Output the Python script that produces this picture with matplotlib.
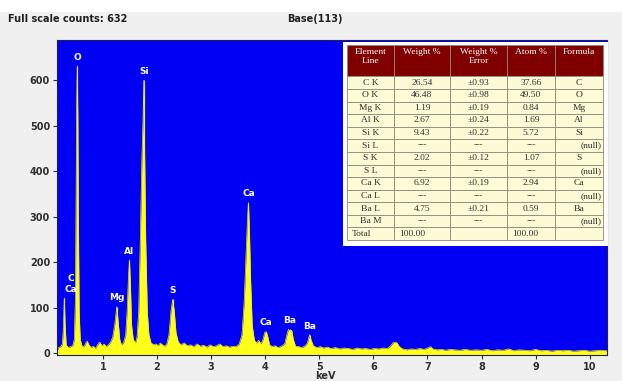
import matplotlib
matplotlib.use("Agg")
import matplotlib.pyplot as plt

# EDS spectrum, counts per energy (keV)
energy = [0.15, 0.18, 0.22, 0.25, 0.27, 0.285, 0.30, 0.32, 0.36, 0.40, 0.44, 0.47,
          0.49, 0.505, 0.515, 0.525, 0.535, 0.545, 0.56, 0.58, 0.61, 0.65, 0.68, 0.71,
          0.74, 0.78, 0.82, 0.86, 0.90, 0.94, 0.98, 1.02, 1.06, 1.10, 1.14, 1.18,
          1.22, 1.255, 1.28, 1.31, 1.34, 1.38, 1.42, 1.45, 1.47, 1.49, 1.51, 1.53,
          1.56, 1.60, 1.63, 1.66, 1.69, 1.72, 1.74, 1.755, 1.77, 1.79, 1.82, 1.85,
          1.89, 1.94, 1.98, 2.02, 2.06, 2.10, 2.14, 2.18, 2.22, 2.26, 2.29, 2.32,
          2.35, 2.39, 2.44, 2.50, 2.56, 2.62, 2.68, 2.74, 2.80, 2.86, 2.92, 2.98,
          3.04, 3.10, 3.16, 3.22, 3.28, 3.34, 3.40, 3.46, 3.52, 3.57, 3.61, 3.64,
          3.67, 3.69, 3.71, 3.73, 3.76, 3.80, 3.84, 3.88, 3.92, 3.96, 3.99, 4.02,
          4.05, 4.08, 4.13, 4.18, 4.24, 4.30, 4.36, 4.40, 4.43, 4.46, 4.49, 4.52,
          4.56, 4.62, 4.68, 4.74, 4.78, 4.82, 4.85, 4.89, 4.95, 5.02, 5.08, 5.15,
          5.22, 5.30, 5.38, 5.46, 5.54, 5.62, 5.70, 5.78, 5.86, 5.94, 6.02, 6.10,
          6.18, 6.26, 6.32, 6.36, 6.40, 6.44, 6.48, 6.54, 6.62, 6.70, 6.78, 6.86,
          6.94, 7.02, 7.06, 7.10, 7.18, 7.26, 7.34, 7.42, 7.50, 7.60, 7.70, 7.80,
          7.90, 8.00, 8.10, 8.20, 8.30, 8.40, 8.50, 8.60, 8.70, 8.80, 8.90, 9.00,
          9.10, 9.20, 9.30, 9.40, 9.50, 9.60, 9.70, 9.80, 9.90, 10.00, 10.10, 10.20,
          10.32]
counts = [5, 12, 14, 20, 60, 121, 60, 18, 12, 14, 16, 30,
          120, 380, 560, 632, 520, 300, 90, 30, 16, 14, 22, 26,
          18, 12, 15, 10, 18, 24, 16, 20, 14, 18, 24, 35,
          65, 102, 70, 30, 18, 22, 40, 100, 165, 205, 140, 60,
          30, 22, 35, 90, 250, 430, 510, 600, 440, 250, 90, 40,
          22, 18, 20, 16, 22, 18, 15, 20, 40, 95, 118, 90,
          45, 25, 18, 22, 16, 18, 14, 20, 15, 17, 13, 18,
          14, 16, 20, 14, 16, 13, 15, 14, 20, 40, 110, 200,
          290, 331, 260, 160, 60, 28, 22, 28, 20, 30, 45, 47,
          35, 18, 14, 16, 12, 15, 20, 40, 52, 48, 50, 30,
          15, 14, 12, 16, 22, 40, 28, 16, 12, 14, 11, 13,
          10, 12, 9, 11, 10, 8, 11, 9, 10, 8, 10, 9,
          11, 10, 16, 22, 24, 22, 14, 9, 7, 9, 8, 10,
          8, 12, 14, 9, 7, 8, 6, 8, 7, 6, 8, 6,
          7, 6, 8, 5, 7, 6, 9, 5, 7, 6, 5, 8,
          5, 6, 4, 6, 5, 6, 4, 5, 6, 4, 5, 6,
          5]

# identified peaks
peak_names = ["C\nCa", "O", "Mg", "Al", "Si", "S", "Ca", "Ca", "Ba", "Ba"]
peak_energy = [0.285, 0.525, 1.255, 1.49, 1.755, 2.29, 3.69, 4.02, 4.45, 4.82]
peak_counts = [121, 632, 102, 205, 600, 118, 331, 47, 52, 40]

# quantification table
element_line = ["C K", "O K", "Mg K", "Al K", "Si K", "Si L", "S K", "S L",
                "Ca K", "Ca L", "Ba L", "Ba M", "Total"]
weight_pct = ["26.54", "46.48", "1.19", "2.67", "9.43", "---", "2.02", "---",
              "6.92", "---", "4.75", "---", "100.00"]
weight_err = ["±0.93", "±0.98", "±0.19", "±0.24", "±0.22", "---", "±0.12", "---",
              "±0.19", "---", "±0.21", "---", ""]
atom_pct = ["37.66", "49.50", "0.84", "1.69", "5.72", "---", "1.07", "---",
            "2.94", "---", "0.59", "---", "100.00"]
formula = ["C", "O", "Mg", "Al", "Si", "(null)", "S", "(null)",
           "Ca", "(null)", "Ba", "(null)", ""]
headers = ["Element\nLine", "Weight %", "Weight %\nError", "Atom %", "Formula"]

W, H = 622, 381
fig = plt.figure(figsize=(W / 100, H / 100), dpi=100)
fig.patch.set_facecolor("#f0f0f0")

# white strip along the top
fig.patches.append(plt.Rectangle((0, 1 - 12 / H), 1, 12 / H, transform=fig.transFigure,
                                 facecolor="white", edgecolor="none", zorder=0))

fig.text(8 / W, 1 - 19 / H, "Full scale counts: 632", fontsize=7, fontweight="bold",
         va="center", ha="left", color="#202020")
fig.text(315 / W, 1 - 19 / H, "Base(113)", fontsize=7, fontweight="bold",
         va="center", ha="center", color="#202020")

ax = fig.add_axes([57 / W, 1 - 355 / H, 550 / W, 315 / H])
ax.set_facecolor("#0000f5")
ymin = -4.4
ax.set_xlim(0.15, 10.32)
ax.set_ylim(ymin, 689)

ax.vlines(peak_energy, 0, peak_counts, color="#c8c8b8", lw=0.9, zorder=1)
ax.fill_between(energy, counts, ymin, color="#ffff1a", lw=0, zorder=2)
ax.plot(energy, counts, color="#f0f000", lw=0.5, zorder=2)

for name, e, c in zip(peak_names, peak_energy, peak_counts):
    dx = 5 if name.startswith("C\n") else 0
    ax.annotate(name, (e, c), xytext=(dx, 3), textcoords="offset points",
                ha="center", va="bottom", color="white", fontsize=6.5,
                fontweight="bold", linespacing=1.3, zorder=3)

ax.set_xticks(range(1, 11))
ax.set_yticks(range(0, 700, 100))
ax.tick_params(direction="out", length=3, width=0.8, colors="#303030",
               labelsize=7, pad=2)
for lbl in ax.get_xticklabels() + ax.get_yticklabels():
    lbl.set_fontweight("bold")
for s in ax.spines.values():
    s.set_color("#202050")
    s.set_linewidth(0.8)

fig.text(325 / W, 1 - 376 / H, "keV", fontsize=7, fontweight="bold",
         ha="center", va="center", color="#303030")

# quantification table on a white card
fig.patches.append(plt.Rectangle((343 / W, 1 - 246 / H), 265 / W, 204 / H,
                                 transform=fig.transFigure, facecolor="white",
                                 edgecolor="none", zorder=5))

rows = list(zip(element_line, weight_pct, weight_err, atom_pct, formula))
col_w = [47, 56, 57, 48, 48]
tbl_ax = fig.add_axes([347 / W, 1 - 240 / H, 256 / W, 195 / H], zorder=6)
tbl_ax.axis("off")
# header labels sit in the upper part of the tall header row
head_txt = [h + "\n" if "\n" in h else h + "\n\n" for h in headers]
tbl = tbl_ax.table(cellText=[list(r) for r in rows], colLabels=head_txt,
                   colWidths=[w / sum(col_w) for w in col_w],
                   cellLoc="center", bbox=[0, 0, 1, 1])
tbl.auto_set_font_size(False)
for (r, c), cell in tbl.get_celld().items():
    cell.set_edgecolor("#8a8a7a")
    cell.set_linewidth(0.6)
    txt = cell.get_text()
    txt.set_fontfamily("Liberation Serif")
    txt.set_fontsize(6.8)
    if r == 0:
        cell.set_facecolor("#800000")
        cell.set_height(2.5)
        txt.set_color("white")
        txt.set_linespacing(1.05)
    else:
        cell.set_facecolor("#fdfbd6")
        cell.set_height(1.0)
        txt.set_color("#303030")
        if r == len(rows) and c in (0, 1, 3):
            cell.set_text_props(ha="left")
        if formula[r - 1] == "(null)" and c == 4:
            cell.set_text_props(ha="right")
            cell.PAD = 0.03

fig.savefig("out.png", dpi=100, facecolor=fig.get_facecolor())
